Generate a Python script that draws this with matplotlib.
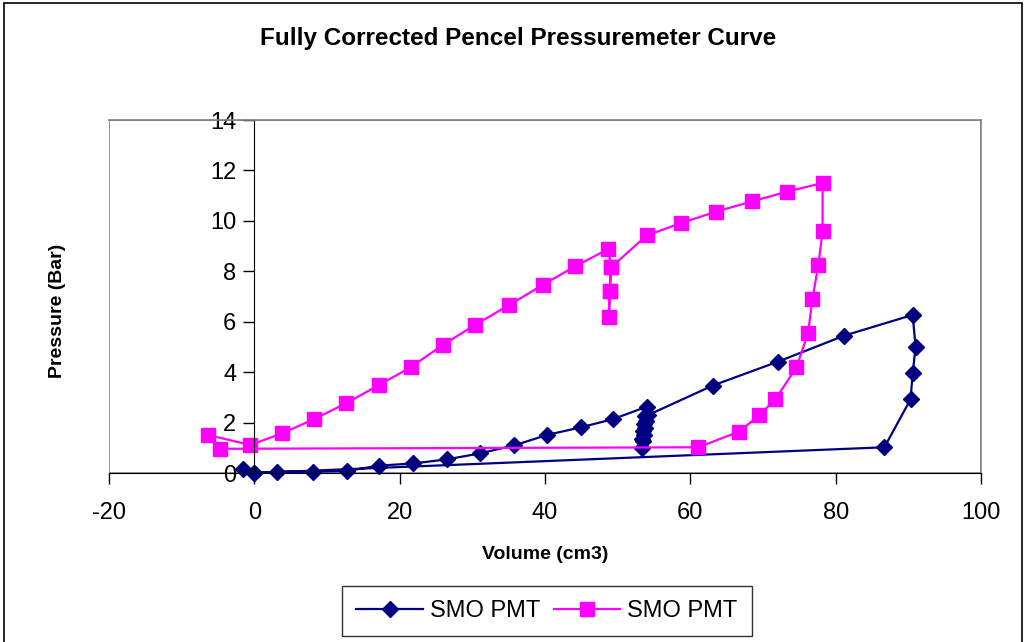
import matplotlib.pyplot as plt
import matplotlib.patches as mpatches

plt.rcParams["font.family"] = ["Liberation Sans", "DejaVu Sans"]
plt.rcParams["axes.unicode_minus"] = False

# Serie 1 (azul, losangos)
vol_a = [-1.6, 0.0, 3.1, 8.1, 12.7, 17.1, 21.9, 26.5, 31.1, 35.8, 40.3, 44.9,
         49.3, 54.0, 53.7, 53.6, 53.5, 53.4, 53.4, 53.5, 53.6, 53.7, 53.9,
         54.2, 63.1, 72.1, 81.2, 90.6, 91.0, 90.6, 90.3, 86.7, 0.0]
pres_a = [0.15, 0.0, 0.05, 0.05, 0.08, 0.29, 0.38, 0.54, 0.78, 1.10, 1.51, 1.81,
          2.13, 2.63, 2.25, 1.95, 1.65, 1.35, 1.00, 1.25, 1.50, 1.80, 2.05,
          2.30, 3.47, 4.42, 5.45, 6.27, 4.99, 3.96, 2.92, 1.02, 0.0]

# Serie 2 (magenta, quadrados)
vol_b = [-6.4, -0.55, 3.8, 8.25, 12.65, 17.1, 21.5, 25.9, 30.3, 35.0, 39.7,
         44.1, 48.7, 49.1, 48.9, 48.8, 48.9, 49.1, 54.0, 58.7, 63.6, 68.5,
         73.3, 78.2, 78.2, 77.6, 76.8, 76.2, 74.6, 71.7, 69.5, 66.7, 61.1, -4.7]
pres_b = [1.51, 1.11, 1.57, 2.14, 2.77, 3.48, 4.19, 5.07, 5.86, 6.65, 7.46,
          8.19, 8.88, 8.16, 7.22, 6.18, 7.22, 8.16, 9.42, 9.91, 10.37, 10.77,
          11.16, 11.50, 9.58, 8.23, 6.89, 5.54, 4.19, 2.92, 2.29, 1.64, 1.02, 0.96]

x_ticks = [-20, 0, 20, 40, 60, 80, 100]
y_ticks = [0, 2, 4, 6, 8, 10, 12, 14]

NAVY = "#000080"
MAGENTA = "#FF00FF"

fig = plt.figure(figsize=(10.26, 6.42), dpi=100)
ax = fig.add_axes([109 / 1026, 1 - 473 / 642, 872 / 1026, 353 / 642])

ax.plot(vol_a, pres_a, color=NAVY, linewidth=1.6, marker="D", markersize=8,
        markerfacecolor=NAVY, markeredgecolor=NAVY, label="SMO PMT", clip_on=False)
ax.plot(vol_b, pres_b, color=MAGENTA, linewidth=1.6, marker="s", markersize=10,
        markerfacecolor=MAGENTA, markeredgecolor=MAGENTA, label="SMO PMT", clip_on=False)

ax.set_xlim(-20, 100)
ax.set_ylim(0, 14)
ax.set_xticks(x_ticks)
ax.set_yticks(y_ticks)

# eixo y cruza em x=0, moldura cinza
ax.spines["left"].set_position(("data", 0))
ax.spines["left"].set_color("black")
ax.spines["bottom"].set_color("black")
for s in ["top", "right"]:
    ax.spines[s].set_color("#808080")
    ax.spines[s].set_linewidth(1.2)
ax.add_patch(mpatches.Rectangle((0, 0), 1, 1, transform=ax.transAxes, fill=False,
                                edgecolor="#808080", linewidth=1.2, zorder=0))

ax.tick_params(axis="x", direction="out", length=8, width=1, labelsize=17, pad=13)
ax.tick_params(axis="y", direction="out", length=8, width=1, labelsize=17, pad=5)

ax.set_xlabel("Volume (cm3)", fontsize=14, fontweight="bold", labelpad=16)
fig.text(57 / 1026, 1 - 311 / 642, "Pressure (Bar)", rotation=90, fontsize=14,
         fontweight="bold", ha="center", va="center")

fig.text(518 / 1026, 1 - 38 / 642, "Fully Corrected Pencel Pressuremeter Curve",
         fontsize=17.5, fontweight="bold", ha="center", va="center")

leg = fig.legend(loc="center", bbox_to_anchor=(547 / 1026, 1 - 611 / 642), ncol=2,
                 fontsize=17, frameon=True, fancybox=False, edgecolor="black",
                 handlelength=2.8, handletextpad=0.3, columnspacing=0.6,
                 borderpad=0.6)
leg.get_frame().set_linewidth(1.0)

# borda externa do grafico
fig.patches.append(mpatches.Rectangle((4 / 1026, -0.01), 1018 / 1026, 1 - 3 / 642 + 0.01,
                                      transform=fig.transFigure, fill=False,
                                      edgecolor="black", linewidth=1.2))

fig.savefig("out.png", dpi=100)
